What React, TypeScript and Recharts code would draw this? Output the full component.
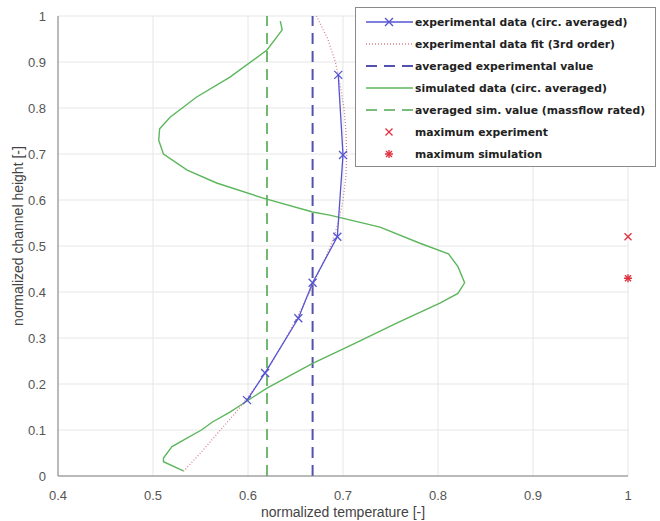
import { CartesianGrid, Legend, ReferenceLine, Scatter, ScatterChart, XAxis, YAxis } from 'recharts'

// axis ticks
const tempTicks = [0.4, 0.5, 0.6, 0.7, 0.8, 0.9, 1]
const heightTicks = [0, 0.1, 0.2, 0.3, 0.4, 0.5, 0.6, 0.7, 0.8, 0.9, 1]

// experimental data (circ. averaged)
const expTemp = [0.599, 0.618, 0.653, 0.668, 0.694, 0.7, 0.695]
const expHeight = [0.165, 0.224, 0.343, 0.42, 0.52, 0.698, 0.872]

// experimental data fit (3rd order)
const fitTemp = [0.532, 0.55, 0.571, 0.592, 0.61, 0.626, 0.64, 0.653, 0.665, 0.676, 0.687, 0.695, 0.7, 0.703, 0.704, 0.703, 0.701, 0.697, 0.692, 0.684, 0.672]
const fitHeight = [0.01, 0.05, 0.1, 0.15, 0.2, 0.25, 0.3, 0.35, 0.4, 0.45, 0.5, 0.55, 0.6, 0.65, 0.7, 0.75, 0.8, 0.85, 0.9, 0.95, 1]

// simulated data (circ. averaged)
const simTemp = [0.532, 0.511, 0.511, 0.52, 0.532, 0.551, 0.563, 0.581, 0.599, 0.62, 0.668, 0.707, 0.757, 0.802, 0.821, 0.828, 0.821, 0.811, 0.781, 0.739, 0.686, 0.668, 0.616, 0.567, 0.536, 0.511, 0.506, 0.507, 0.518, 0.546, 0.581, 0.62, 0.636, 0.634]
const simHeight = [0.011, 0.031, 0.039, 0.064, 0.078, 0.1, 0.118, 0.139, 0.163, 0.191, 0.245, 0.283, 0.333, 0.376, 0.397, 0.42, 0.455, 0.483, 0.506, 0.541, 0.567, 0.574, 0.604, 0.637, 0.665, 0.7, 0.73, 0.755, 0.78, 0.824, 0.867, 0.926, 0.97, 0.989]

const avgExpTemp = 0.668
const avgSimTemp = 0.62

const maxExp = [{ x: 1, y: 0.52 }]
const maxSim = [{ x: 1, y: 0.43 }]

const zip = (xs: number[], ys: number[]) => xs.map((x, i) => ({ x, y: ys[i] }))

const expData = zip(expTemp, expHeight)
const fitData = zip(fitTemp, fitHeight)
const simData = zip(simTemp, simHeight)

const BLUE = '#5454d2'
const BLUE_DASH = '#5252ae'
const GREEN = '#5cb65c'
const GREEN_DASH = '#4fa84f'
const FIT = '#d8848e'
const RED = '#e0303e'

const tickStyle = { fontSize: 13, fill: '#555', fontFamily: '"Liberation Sans", Arial, sans-serif' }
const labelStyle = { fontSize: 14, fill: '#444', fontFamily: '"Liberation Sans", Arial, sans-serif' }

function crossPath(cx: number, cy: number, r: number) {
  return `M${cx - r},${cy - r}L${cx + r},${cy + r}M${cx - r},${cy + r}L${cx + r},${cy - r}`
}

function ExpMarker(props: any) {
  const { cx, cy } = props
  return <path d={crossPath(cx, cy, 4)} stroke={BLUE} strokeWidth={1.3} fill="none" />
}

function MaxExpMarker(props: any) {
  const { cx, cy } = props
  return <path d={crossPath(cx, cy, 3.5)} stroke={RED} strokeWidth={1.3} fill="none" />
}

function MaxSimMarker(props: any) {
  const { cx, cy } = props
  return (
    <g stroke={RED} strokeWidth={1.4} fill="none">
      <path d={crossPath(cx, cy, 3)} />
      <path d={`M${cx - 4},${cy}L${cx + 4},${cy}M${cx},${cy - 4}L${cx},${cy + 4}`} />
    </g>
  )
}

const NoMarker = () => <g />

const legendRows = [
  { key: 'exp', text: 'experimental data (circ. averaged)' },
  { key: 'fit', text: 'experimental data fit (3rd order)' },
  { key: 'avgExp', text: 'averaged experimental value' },
  { key: 'sim', text: 'simulated data (circ. averaged)' },
  { key: 'avgSim', text: 'averaged sim. value (massflow rated)' },
  { key: 'maxExp', text: 'maximum experiment' },
  { key: 'maxSim', text: 'maximum simulation' },
]

function LegendIcon({ kind }: { kind: string }) {
  return (
    <svg width={48} height={22} style={{ display: 'block' }}>
      {kind === 'exp' ? (
        <>
          <line x1={1} y1={11} x2={48} y2={11} stroke={BLUE} strokeWidth={1.3} />
          <path d={crossPath(24, 11, 4)} stroke={BLUE} strokeWidth={1.3} />
        </>
      ) : null}
      {kind === 'fit' ? <line x1={1} y1={11} x2={48} y2={11} stroke={FIT} strokeWidth={1.3} strokeDasharray="1 2" /> : null}
      {kind === 'avgExp' ? <line x1={1} y1={11} x2={48} y2={11} stroke={BLUE_DASH} strokeWidth={2} strokeDasharray="11 7" /> : null}
      {kind === 'sim' ? <line x1={1} y1={11} x2={48} y2={11} stroke={GREEN} strokeWidth={1.4} /> : null}
      {kind === 'avgSim' ? <line x1={1} y1={11} x2={48} y2={11} stroke={GREEN_DASH} strokeWidth={1.6} strokeDasharray="11 7" /> : null}
      {kind === 'maxExp' ? <path d={crossPath(24, 11, 3.5)} stroke={RED} strokeWidth={1.3} /> : null}
      {kind === 'maxSim' ? (
        <g stroke={RED} strokeWidth={1.4}>
          <path d={crossPath(24, 11, 3)} />
          <path d="M20,11L28,11M24,7L24,15" />
        </g>
      ) : null}
    </svg>
  )
}

function LegendBox() {
  return (
    <div
      style={{
        boxSizing: 'border-box',
        width: 301,
        height: 160,
        border: '1px solid #8a8a8a',
        background: '#fff',
        padding: '3px 0 0 9px',
        fontFamily: '"DejaVu Sans", Verdana, sans-serif',
        fontWeight: 'bold',
        fontSize: 10.8,
        color: '#222',
      }}
    >
      {legendRows.map((row) => (
        <div key={row.key} style={{ display: 'flex', alignItems: 'center', height: 22 }}>
          <LegendIcon kind={row.key} />
          <span style={{ marginLeft: 2, whiteSpace: 'nowrap' }}>{row.text}</span>
        </div>
      ))}
    </div>
  )
}

export default function App() {
  return (
    <div style={{ position: 'relative', width: 660, height: 521, background: '#fff' }}>
      <style>{'body{margin:0;background:#fff}'}</style>
      <ScatterChart width={660} height={521} margin={{ top: 16, right: 32, bottom: 0, left: 0 }}>
        <CartesianGrid stroke="#e6e6e6" />
        <XAxis
          type="number"
          dataKey="x"
          domain={[0.4, 1]}
          ticks={tempTicks}
          height={45}
          stroke="#808080"
          tickLine={false}
          tickMargin={9}
          tick={tickStyle}
          label={{ value: 'normalized temperature [-]', position: 'insideBottom', offset: 4, style: labelStyle }}
        />
        <YAxis
          type="number"
          dataKey="y"
          domain={[0, 1]}
          ticks={heightTicks}
          width={58}
          stroke="#808080"
          tickLine={false}
          tickMargin={6}
          tick={tickStyle}
          label={{ value: 'normalized channel height [-]', angle: -90, position: 'center', dx: -11, dy: -10, style: labelStyle }}
        />
        <ReferenceLine x={avgSimTemp} stroke={GREEN_DASH} strokeWidth={1.6} strokeDasharray="11 7" />
        <ReferenceLine x={avgExpTemp} stroke={BLUE_DASH} strokeWidth={2} strokeDasharray="11 7" />
        <Scatter data={simData} line={{ stroke: GREEN, strokeWidth: 1.4 }} shape={NoMarker} isAnimationActive={false} />
        <Scatter data={fitData} line={{ stroke: FIT, strokeWidth: 1.3, strokeDasharray: '1 2' }} shape={NoMarker} isAnimationActive={false} />
        <Scatter data={expData} line={{ stroke: BLUE, strokeWidth: 1.3 }} shape={ExpMarker} isAnimationActive={false} />
        <Scatter data={maxExp} shape={MaxExpMarker} isAnimationActive={false} />
        <Scatter data={maxSim} shape={MaxSimMarker} isAnimationActive={false} />
        <Legend
          layout="vertical"
          align="center"
          verticalAlign="middle"
          content={LegendBox}
          wrapperStyle={{ left: 355, top: 7, width: 301, height: 160, margin: 0 }}
        />
      </ScatterChart>
    </div>
  )
}
